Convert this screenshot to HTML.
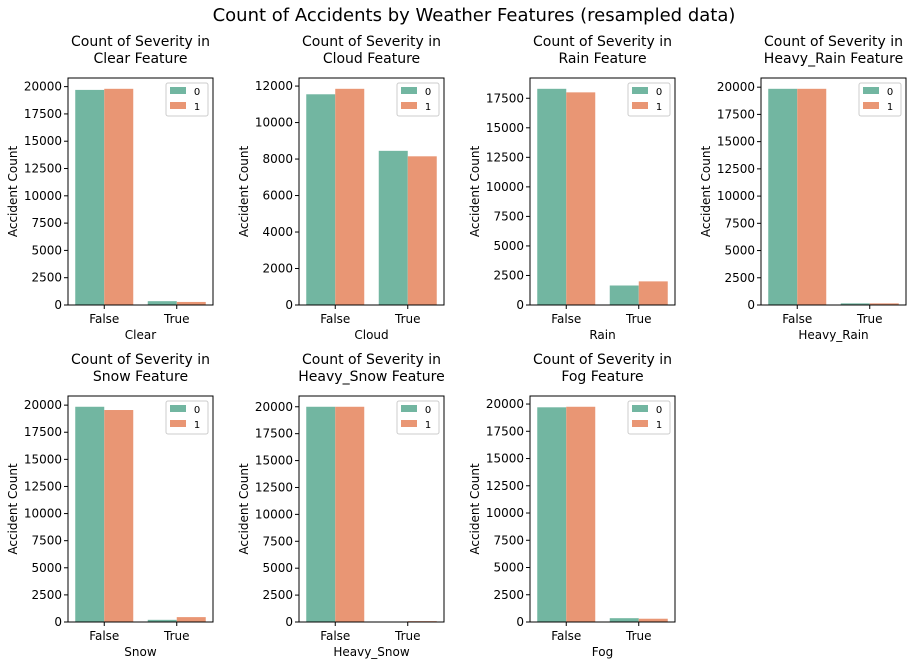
<!DOCTYPE html>
<html><head><meta charset="utf-8"><style>
body{margin:0;background:#fff;font-family:"DejaVu Sans","Liberation Sans",sans-serif}
svg text{font-family:"DejaVu Sans","Liberation Sans",sans-serif}
</style></head><body>
<svg id="c" width="912" height="665" xmlns="http://www.w3.org/2000/svg">
<rect width="912" height="665" fill="#fff"/>
<text x="474" y="21" text-anchor="middle" font-size="18" fill="#000">Count of Accidents by Weather Features (resampled data)</text>
</svg>
<script>
const features = ["Clear","Cloud","Rain","Heavy_Rain","Snow","Heavy_Snow","Fog"];
const categories = ["False","True"];
const sev0 = [[19700,350],[11550,8450],[18300,1650],[19850,150],[19850,200],[20000,0],[19700,350]];
const sev1 = [[19800,280],[11850,8150],[18000,2000],[19850,150],[19550,450],[20000,80],[19750,300]];
const ticksBig = [0,2500,5000,7500,10000,12500,15000,17500,20000];
const ticksCloud = [0,2000,4000,6000,8000,10000,12000];
const colors = ["#72b6a1","#e99674"];
const svg = document.getElementById('c');
const NS = "http://www.w3.org/2000/svg";
function mk(tag, attrs, parent){const e=document.createElementNS(NS,tag);for(const k in attrs)e.setAttribute(k,attrs[k]);(parent||svg).appendChild(e);return e;}
features.forEach((f,i)=>{
  const col=i%4,row=Math.floor(i/4);
  const L=68+col*231,R=L+145,T=row?396:78,B=row?622:305;
  const g=mk('g',{});
  
  
  const mx=Math.max(...sev0[i],...sev1[i])*1.05;
  const y=v=>B-(v/mx)*(B-T);
  const x=v=>L+(v+0.5)/2*(R-L);
  [sev0[i],sev1[i]].forEach((s,h)=>{
    s.forEach((v,c)=>{
      const r=mk('rect',{x:x(c-0.4+h*0.4),y:y(v),width:x(0.4)-x(0),height:B-y(v),fill:colors[h]},g);
      
      
    });
  });
  mk('rect',{x:L,y:T,width:R-L,height:B-T,fill:'none',stroke:'#000','stroke-width':1},g);
  const ticks=(f==="Cloud")?ticksCloud:ticksBig;
  ticks.forEach(t=>{
    if(t>mx)return;
    const yy=y(t);
    mk('line',{x1:L-4,x2:L,y1:yy,y2:yy,stroke:'#000'},g);
    const tx=mk('text',{x:L-6,y:yy+4,'text-anchor':'end','font-size':12},g);tx.textContent=t;
    
    
  });
  categories.forEach((c,k)=>{
    const xx=x(k);
    mk('line',{x1:xx,x2:xx,y1:B,y2:B+4,stroke:'#000'},g);
    const tx=mk('text',{x:xx,y:B+18,'text-anchor':'middle','font-size':12},g);tx.textContent=c;
    
    
  });
  const xl=mk('text',{x:(L+R)/2,y:B+34,'text-anchor':'middle','font-size':12},g);xl.textContent=f;
  
  
  const yl=mk('text',{x:0,y:0,'text-anchor':'middle','font-size':12,transform:`translate(${L-51},${(T+B)/2}) rotate(-90)`},g);yl.textContent="Accident Count";
  
  
  const t1=mk('text',{x:(L+R)/2,y:T-32,'text-anchor':'middle','font-size':14},g);t1.textContent="Count of Severity in";
  
  
  const t2=mk('text',{x:(L+R)/2,y:T-15,'text-anchor':'middle','font-size':14},g);t2.textContent=" "+f+" Feature";
  
  
  const lg=mk('g',{},g);
  
  
  mk('rect',{x:R-47,y:T+5,width:42,height:33,fill:'#fff',stroke:'#ccc',rx:2},lg);
  ["0","1"].forEach((n,h)=>{
    mk('rect',{x:R-43,y:T+9+h*15,width:16,height:7,fill:colors[h]},lg);
    const lt=mk('text',{x:R-16,y:T+17+h*15,'font-size':10,'text-anchor':'middle'},lg);lt.textContent=n;
    
    
  });
});
</script>
</body></html>
